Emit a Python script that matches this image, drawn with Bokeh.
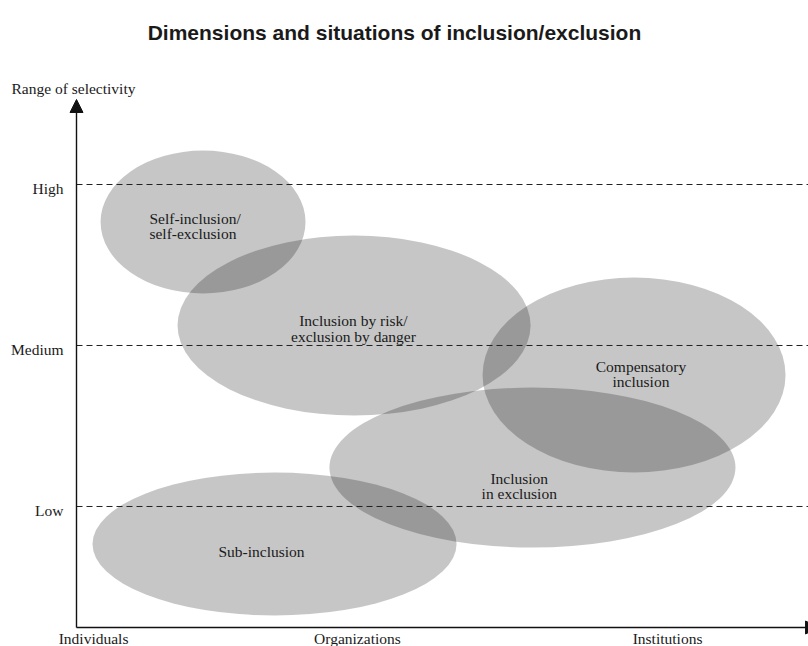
from bokeh.plotting import figure
from bokeh.models import Range1d, Arrow, NormalHead, ColumnDataSource
from bokeh.core.properties import value
from bokeh.embed import file_html
from bokeh.resources import INLINE

# ---------------- data ----------------
title_text = "Dimensions and situations of inclusion/exclusion"
y_axis_title = "Range of selectivity"

y_levels = [1, 2, 3]
y_level_labels = ["Low", "Medium", "High"]

x_categories = ["Individuals", "Organizations", "Institutions"]
x_category_pos = [0.106, 1.745, 3.671]

situations = [
    ["Self-inclusion/", "self-exclusion"],
    ["Inclusion by risk/", "exclusion by danger"],
    ["Compensatory", "inclusion"],
    ["Inclusion", "in exclusion"],
    ["Sub-inclusion"],
]
ell_x = [0.786, 1.724, 3.463, 2.832, 1.230]
ell_y = [2.767, 2.124, 1.817, 1.242, 0.767]
ell_w = [1.273, 2.193, 1.882, 2.522, 2.261]
ell_h = [0.888, 1.118, 1.211, 0.994, 0.888]

label_x = [0.453, 1.720, 3.506, 2.750, 1.149]
label_y = [2.789, 2.155, 1.870, 1.174, 0.7205]
label_align = ["left", "center", "center", "center", "center"]

axis_origin_y = 0.2484
y_axis_top = 3.528
x_axis_right = 4.609

# ---------------- figure ----------------
SERIF = value("Liberation Serif")
FS = "15.5px"

p = figure(width=808, height=646, output_backend="svg", toolbar_location=None,
           x_range=Range1d(-0.47205, 4.54658), y_range=Range1d(0.13043, 4.14286),
           min_border=0, min_border_left=0, min_border_right=0,
           min_border_top=0, min_border_bottom=0)
p.axis.visible = False
p.grid.visible = False
p.outline_line_color = None
p.background_fill_color = "white"
p.border_fill_color = "white"

# ellipses
p.ellipse(x=ell_x, y=ell_y, width=ell_w, height=ell_h,
          fill_color="black", fill_alpha=0.225, line_color=None)

# dashed level lines
p.segment(x0=[0] * len(y_levels), y0=y_levels,
          x1=[x_axis_right] * len(y_levels), y1=y_levels,
          line_color="#222222", line_width=1, line_dash="6 4")

# situation labels (one text per line)
lx, ly, lt, la, lo = [], [], [], [], []
for i, lines in enumerate(situations):
    for j, t in enumerate(lines):
        lx.append(label_x[i])
        ly.append(label_y[i])
        lt.append(t)
        la.append(label_align[i])
        lo.append(j * 15.5)
src = ColumnDataSource(dict(x=lx, y=ly, text=lt, align=la, off=lo))
p.text(x="x", y="y", text="text", source=src, text_align="align",
       text_baseline="alphabetic", y_offset="off",
       text_font=SERIF, text_font_size=FS, text_color="#1a1a1a")

# axes with arrows
p.add_layout(Arrow(end=NormalHead(size=13, fill_color="#111111", line_color="#111111"),
                   x_start=0, y_start=axis_origin_y, x_end=0, y_end=y_axis_top,
                   line_color="#111111", line_width=1.4))
p.add_layout(Arrow(end=NormalHead(size=13, fill_color="#111111", line_color="#111111"),
                   x_start=0, y_start=axis_origin_y, x_end=x_axis_right, y_end=axis_origin_y,
                   line_color="#111111", line_width=1.4))

# y tick labels
p.text(x=[0] * len(y_levels), y=y_levels, text=y_level_labels,
       text_align="right", text_baseline="alphabetic", x_offset=-13, y_offset=4,
       text_font=SERIF, text_font_size=FS, text_color="#1a1a1a")

# x category labels
p.text(x=x_category_pos, y=[axis_origin_y] * len(x_categories), text=x_categories,
       text_align="center", text_baseline="alphabetic", y_offset=11,
       text_font=SERIF, text_font_size=FS, text_color="#1a1a1a")

# y axis title
p.text(x=[0], y=[y_axis_top], text=[y_axis_title],
       text_align="left", text_baseline="alphabetic", x_offset=-65, y_offset=-11,
       text_font=SERIF, text_font_size=FS, text_color="#1a1a1a")

# chart title
p.text(x=[1.975], y=[y_axis_top], text=[title_text],
       text_align="center", text_baseline="alphabetic", y_offset=-67,
       text_font=value("Liberation Sans"), text_font_style="bold",
       text_font_size="21px", text_color="#1a1a1a")

open("out.html", "w").write(file_html(p, INLINE))
